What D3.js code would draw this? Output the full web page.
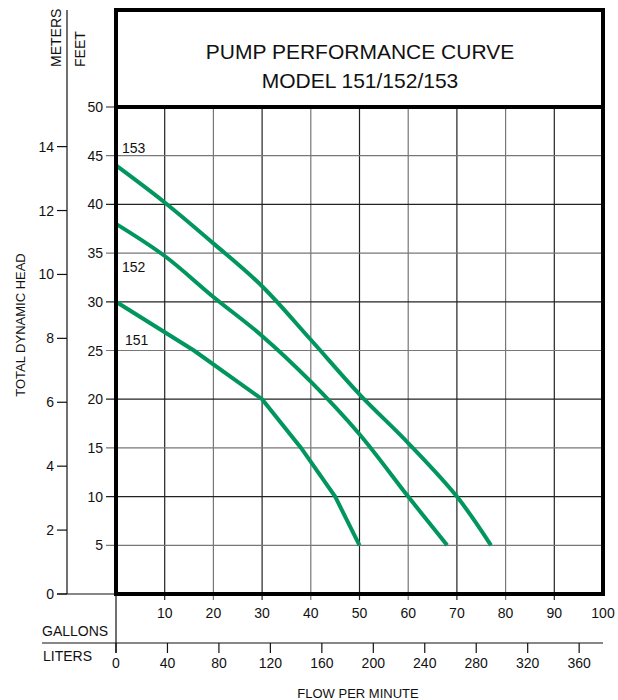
<!DOCTYPE html>
<html>
<head>
<meta charset="utf-8">
<script src="https://cdn.jsdelivr.net/npm/d3@7"></script>
<style>
  body { margin: 0; background: #fff; }
  svg text { font-family: "Liberation Sans Narrow", "Arial Narrow", "Liberation Sans", sans-serif; fill: #111; }
</style>
</head>
<body>
<svg id="chart" width="618" height="700"></svg>
<script>
// curve data (gallons per minute, feet of head)
var gal151 = [0, 16, 30, 38, 45, 50];
var ft151  = [30, 25, 20, 15, 10, 5];
var gal152 = [0, 10, 20, 30, 40, 50, 60, 68];
var ft152  = [38, 34.7, 30.5, 26.5, 21.8, 16.4, 10, 5];
var gal153 = [0, 10, 20, 30, 40, 50, 60, 70, 77];
var ft153  = [44, 40.2, 36, 31.6, 26.1, 20.5, 15.5, 10, 5];

var models = ["151", "152", "153"];
var feetTicks = [5, 10, 15, 20, 25, 30, 35, 40, 45, 50];
var meterTicks = [0, 2, 4, 6, 8, 10, 12, 14];
var galTicks = [10, 20, 30, 40, 50, 60, 70, 80, 90, 100];
var literTicks = [0, 40, 80, 120, 160, 200, 240, 280, 320, 360];

var titleLines = ["PUMP PERFORMANCE CURVE", "MODEL 151/152/153"];

// layout (mTop, not "top": that one is window.top)
var mLeft = 116, mRight = 603, mTop = 10, mHead = 107, mBottom = 594;
var green = "#00965e";

var svg = d3.select("#chart");

var x = d3.scaleLinear().domain([0, 100]).range([mLeft, mRight]);
var y = d3.scaleLinear().domain([0, 50]).range([mBottom, mHead]);
var yM = d3.scaleLinear().domain([0, 50 / 3.28084]).range([mBottom, mHead]);
var xL = d3.scaleLinear().domain([0, 100 / 0.264172]).range([mLeft, mRight]);

// grid
svg.append("g")
    .selectAll("line")
    .data(galTicks.slice(0, -1))
    .enter()
    .append("line")
    .attr("x1", function(d) { return x(d); })
    .attr("x2", function(d) { return x(d); })
    .attr("y1", mHead)
    .attr("y2", mBottom + 6)
    .attr("stroke", function(d, i) { return i % 2 ? "#777" : "#222"; })
    .attr("stroke-width", 1.2);

svg.append("g")
    .selectAll("line")
    .data(feetTicks)
    .enter()
    .append("line")
    .attr("x1", mLeft - 10)
    .attr("x2", mRight)
    .attr("y1", function(d) { return y(d); })
    .attr("y2", function(d) { return y(d); })
    .attr("stroke", function(d, i) { return i % 2 ? "#222" : "#777"; })
    .attr("stroke-width", 1.2);

// feet labels
svg.append("g")
    .selectAll("text")
    .data(feetTicks)
    .enter()
    .append("text")
    .attr("x", mLeft - 13)
    .attr("y", function(d) { return y(d) + 5; })
    .attr("text-anchor", "end")
    .style("font-size", "14px")
    .text(function(d) { return d; });

// meters axis
svg.append("line")
    .attr("x1", 67).attr("x2", 67)
    .attr("y1", mTop).attr("y2", mBottom)
    .attr("stroke", "#111").attr("stroke-width", 1.2);

svg.append("line")
    .attr("x1", 57).attr("x2", mLeft)
    .attr("y1", mBottom).attr("y2", mBottom)
    .attr("stroke", "#111").attr("stroke-width", 1.2);

svg.append("g")
    .selectAll("line")
    .data(meterTicks)
    .enter()
    .append("line")
    .attr("x1", 57)
    .attr("x2", 67)
    .attr("y1", function(d) { return yM(d); })
    .attr("y2", function(d) { return yM(d); })
    .attr("stroke", "#111")
    .attr("stroke-width", 1.2);

svg.append("g")
    .selectAll("text")
    .data(meterTicks)
    .enter()
    .append("text")
    .attr("x", 54)
    .attr("y", function(d) { return yM(d) + 5; })
    .attr("text-anchor", "end")
    .style("font-size", "14px")
    .text(function(d) { return d; });

// unit labels
svg.append("text")
    .attr("transform", "translate(61,67) rotate(-90)")
    .style("font-size", "14px")
    .text("METERS");
svg.append("text")
    .attr("transform", "translate(85,67) rotate(-90)")
    .style("font-size", "14px")
    .text("FEET");
svg.append("text")
    .attr("transform", "translate(25,325) rotate(-90)")
    .attr("text-anchor", "middle")
    .style("font-size", "13px")
    .text("TOTAL DYNAMIC HEAD");

// gallons labels
svg.append("g")
    .selectAll("text")
    .data(galTicks)
    .enter()
    .append("text")
    .attr("x", function(d) { return x(d); })
    .attr("y", 618)
    .attr("text-anchor", "middle")
    .style("font-size", "14px")
    .text(function(d) { return d; });

// liters axis
svg.append("line")
    .attr("x1", 42).attr("x2", mRight)
    .attr("y1", 643).attr("y2", 643)
    .attr("stroke", "#111").attr("stroke-width", 1.2);
svg.append("line")
    .attr("x1", mLeft).attr("x2", mLeft)
    .attr("y1", mBottom).attr("y2", 653)
    .attr("stroke", "#111").attr("stroke-width", 1.2);

svg.append("g")
    .selectAll("line")
    .data(literTicks)
    .enter()
    .append("line")
    .attr("x1", function(d) { return xL(d); })
    .attr("x2", function(d) { return xL(d); })
    .attr("y1", 643)
    .attr("y2", 653)
    .attr("stroke", "#111")
    .attr("stroke-width", 1.2);

svg.append("g")
    .selectAll("text")
    .data(literTicks)
    .enter()
    .append("text")
    .attr("x", function(d) { return xL(d); })
    .attr("y", 668)
    .attr("text-anchor", "middle")
    .style("font-size", "14px")
    .text(function(d) { return d; });

svg.append("text").attr("x", 42).attr("y", 636).style("font-size", "14px").text("GALLONS");
svg.append("text").attr("x", 43).attr("y", 661).style("font-size", "14px").text("LITERS");
svg.append("text")
    .attr("x", 358).attr("y", 698)
    .attr("text-anchor", "middle")
    .style("font-size", "13px")
    .text("FLOW PER MINUTE");

// curves
var curves = [
    { name: models[0], g: gal151, f: ft151, lx: 125, ly: 345, shape: d3.curveLinear },
    { name: models[1], g: gal152, f: ft152, lx: 122, ly: 272, shape: d3.curveCatmullRom },
    { name: models[2], g: gal153, f: ft153, lx: 122, ly: 153, shape: d3.curveCatmullRom }
];

svg.append("g")
    .selectAll("path")
    .data(curves)
    .enter()
    .append("path")
    .attr("d", function(c) {
        return d3.line()
            .x(function(d) { return x(d[0]); })
            .y(function(d) { return y(d[1]); })
            .curve(c.shape)(d3.zip(c.g, c.f));
    })
    .attr("fill", "none")
    .attr("stroke", green)
    .attr("stroke-width", 4);

svg.append("g")
    .selectAll("text")
    .data(curves)
    .enter()
    .append("text")
    .attr("x", function(c) { return c.lx; })
    .attr("y", function(c) { return c.ly; })
    .style("font-size", "14px")
    .text(function(c) { return c.name; });

// frame
svg.append("rect")
    .attr("x", mLeft).attr("y", mTop)
    .attr("width", mRight - mLeft).attr("height", mBottom - mTop)
    .attr("fill", "none")
    .attr("stroke", "#000")
    .attr("stroke-width", 4);
svg.append("line")
    .attr("x1", mLeft).attr("x2", mRight)
    .attr("y1", mHead).attr("y2", mHead)
    .attr("stroke", "#000")
    .attr("stroke-width", 4);

// title
svg.append("g")
    .selectAll("text")
    .data(titleLines)
    .enter()
    .append("text")
    .attr("x", 360)
    .attr("y", function(d, i) { return 59 + i * 29; })
    .attr("text-anchor", "middle")
    .style("font-size", "21px")
    .text(function(d) { return d; });
</script>
</body>
</html>
